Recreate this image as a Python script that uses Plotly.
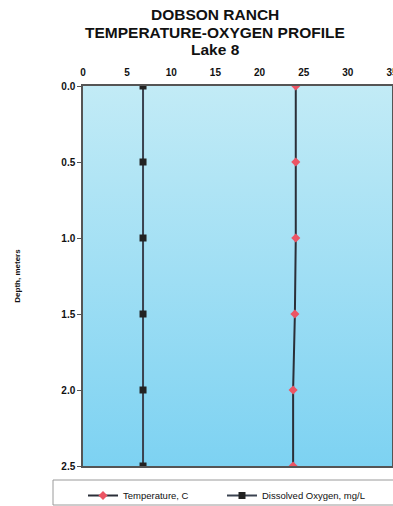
import plotly.graph_objects as go

depth = [0.0, 0.5, 1.0, 1.5, 2.0, 2.5]
temperature = [24.1, 24.1, 24.1, 24.0, 23.8, 23.8]
dissolved_oxygen = [6.8, 6.8, 6.8, 6.8, 6.8, 6.8]
x_range = [0, 35]
y_range = [0, 2.5]
title_lines = ["DOBSON RANCH", "TEMPERATURE-OXYGEN PROFILE", "Lake 8"]

fig = go.Figure()

# background gradient of the plot area
fig.add_trace(go.Scatter(
    x=[x_range[0], x_range[1], x_range[1], x_range[0], x_range[0]],
    y=[y_range[0], y_range[0], y_range[1], y_range[1], y_range[0]],
    fill="toself", mode="none", hoverinfo="skip", showlegend=False,
    fillgradient=dict(type="vertical",
                      colorscale=[[0, "#7dd2f2"], [1, "#c2ebf6"]]),
))

fig.add_trace(go.Scatter(
    x=temperature, y=depth, name="Temperature, C", mode="lines+markers",
    line=dict(color="#2a2f38", width=2),
    marker=dict(symbol="diamond", color="#ec5564", size=7),
    legend="legend",
))
fig.add_trace(go.Scatter(
    x=dissolved_oxygen, y=depth, name="Dissolved Oxygen, mg/L", mode="lines+markers",
    line=dict(color="#3a4250", width=2),
    marker=dict(symbol="square", color="#222222", size=7),
    legend="legend2",
))

W, H = 393, 506
L, R, T, B = 83, 1, 86, 40
pw, ph = W - L - R, H - T - B

def px_x(p):
    return (p - L) / pw

def px_y(p):
    return (H - B - p) / ph

fig.add_shape(type="rect", xref="paper", yref="paper",
              x0=px_x(53), x1=px_x(396), y0=px_y(505), y1=px_y(480),
              line=dict(color="#9a9a9a", width=1), fillcolor="white", layer="below")

for i, (txt, yc) in enumerate(zip(title_lines, [15, 32, 50])):
    fig.add_annotation(text="<b>%s</b>" % txt, xref="paper", yref="paper",
                       x=px_x(215), y=px_y(yc), xanchor="center", yanchor="middle",
                       showarrow=False, font=dict(size=15.5, color="#111111"))

legend_style = dict(orientation="h", xanchor="left", y=px_y(481), yanchor="top",
                    bgcolor="rgba(0,0,0,0)", font=dict(size=9.5, color="#111111"),
                    itemwidth=30)

fig.update_layout(
    width=W, height=H,
    margin=dict(l=L, r=R, t=T, b=B, autoexpand=False),
    paper_bgcolor="white", plot_bgcolor="white",
    font=dict(family="Liberation Sans, Arial, sans-serif", color="#111111"),
    showlegend=True,
    legend=dict(x=px_x(83), **legend_style),
    legend2=dict(x=px_x(222), **legend_style),
    xaxis=dict(side="top", range=x_range, dtick=5, showgrid=False, zeroline=False,
               showline=True, linecolor="#555555", linewidth=1.5, mirror=True,
               ticks="", automargin=False, ticklabelstandoff=4, ticklabeloverflow="allow",
               tickfont=dict(size=10, color="#111111", weight="bold")),
    yaxis=dict(range=[y_range[1], y_range[0]], dtick=0.5, tickformat=".1f",
               showgrid=True, gridcolor="#8d9ca8", gridwidth=1, zeroline=False,
               showline=True, linecolor="#555555", linewidth=1.5, mirror=True,
               ticks="outside", ticklen=4, tickcolor="#555555", automargin=False,
               tickfont=dict(size=10, color="#111111", weight="bold"),
               title=dict(text="<b>Depth, meters</b>", font=dict(size=8), standoff=40)),
)

fig.write_html("out.html", config={"displayModeBar": False},
               post_script="document.body.style.margin='0';document.body.style.overflow='hidden';")
